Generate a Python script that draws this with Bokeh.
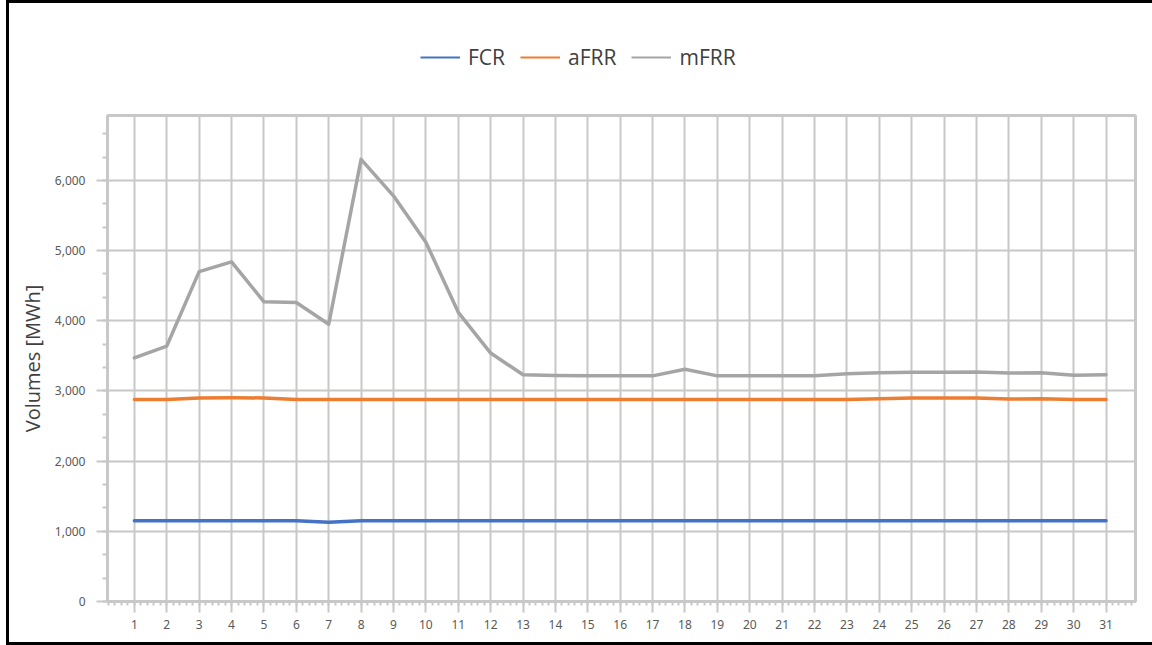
import math
from bokeh.plotting import figure
from bokeh.layouts import column
from bokeh.models import (SingleIntervalTicker, NumeralTickFormatter, Legend,
                          LegendItem, Range1d, ColumnDataSource)
from bokeh.embed import file_html
from bokeh.resources import INLINE

# ---- data ----
days = list(range(1, 32))
fcr = [1150, 1150, 1150, 1150, 1150, 1150, 1130, 1150, 1150, 1150,
       1150, 1150, 1150, 1150, 1150, 1150, 1150, 1150, 1150, 1150,
       1150, 1150, 1150, 1150, 1150, 1150, 1150, 1150, 1150, 1150, 1150]
afrr = [2880, 2880, 2900, 2905, 2900, 2880, 2880, 2880, 2880, 2880,
        2880, 2880, 2880, 2880, 2880, 2880, 2880, 2880, 2880, 2880,
        2880, 2880, 2880, 2890, 2900, 2900, 2900, 2885, 2890, 2880, 2880]
mfrr = [3470, 3640, 4700, 4840, 4270, 4260, 3950, 6300, 5780, 5120,
        4120, 3540, 3230, 3220, 3215, 3215, 3215, 3310, 3215, 3215,
        3215, 3215, 3245, 3260, 3265, 3265, 3270, 3255, 3260, 3225, 3230]
series_names = ["FCR", "aFRR", "mFRR"]
series_values = [fcr, afrr, mfrr]
series_colors = ["#4472C4", "#ED7D31", "#A5A5A5"]
y_label = "Volumes [MWh]"

GRID = "#c8c8c8"
TXT = "#595959"
W = 1146
H_TOP = 80

# ---- legend strip (top part of the bordered frame) ----
lg = figure(width=W, height=H_TOP, output_backend="svg", toolbar_location=None,
            x_axis_type=None, y_axis_type=None,
            x_range=Range1d(0, 1), y_range=Range1d(0, 1),
            min_border=0, outline_line_color=None,
            background_fill_color="white", border_fill_color="white")
lg.grid.visible = False
lg.styles = {"margin-left": "6px", "overflow": "hidden",
             "border-left": "3px solid black", "border-top": "3px solid black"}

items = []
for name, col in zip(series_names, series_colors):
    proxy = lg.line(x=[math.nan], y=[math.nan], line_color=col, line_width=2)
    items.append(LegendItem(label=name, renderers=[proxy]))

legend = Legend(items=items, orientation="horizontal", location=(313, 12),
                glyph_width=40, glyph_height=20, label_standoff=8, spacing=15,
                padding=0, margin=0, border_line_color=None,
                background_fill_alpha=0, label_text_font="Open Sans",
                label_text_font_size="21px", label_text_color="#404040",
                label_height=20)
lg.add_layout(legend, "center")

# ---- main chart ----
p = figure(width=W, height=645 - H_TOP, output_backend="svg", toolbar_location=None,
           x_range=Range1d(0.17, 31.91), y_range=Range1d(0, 6925),
           min_border_left=98, min_border_right=20, min_border_top=35,
           min_border_bottom=44, background_fill_color="white",
           border_fill_color="white")
p.styles = {"margin-left": "6px", "overflow": "hidden",
            "border-left": "3px solid black", "border-bottom": "3px solid black"}

p.outline_line_color = GRID
p.outline_line_width = 3

xa = p.xaxis[0]
xa.ticker = SingleIntervalTicker(interval=1, num_minor_ticks=5)
xa.axis_line_color = GRID
xa.axis_line_width = 2
xa.major_tick_line_color = GRID
xa.major_tick_line_width = 2
xa.major_tick_out = 11
xa.major_tick_in = 0
xa.minor_tick_line_color = GRID
xa.minor_tick_line_width = 2
xa.minor_tick_out = 4
xa.minor_tick_in = 0
xa.major_label_text_font = "Noto Sans"
xa.major_label_text_font_size = "12px"
xa.major_label_text_color = TXT
xa.major_label_standoff = 7

ya = p.yaxis[0]
ya.ticker = SingleIntervalTicker(interval=1000, num_minor_ticks=3)
ya.formatter = NumeralTickFormatter(format="0,0")
ya.axis_line_color = GRID
ya.axis_line_width = 3
ya.major_tick_line_color = GRID
ya.major_tick_line_width = 2
ya.major_tick_out = 11
ya.major_tick_in = 0
ya.minor_tick_line_color = GRID
ya.minor_tick_line_width = 2
ya.minor_tick_out = 5
ya.minor_tick_in = 0
ya.major_label_text_font = "Noto Sans"
ya.major_label_text_font_size = "12px"
ya.major_label_text_color = TXT
ya.major_label_standoff = 11
ya.axis_label = y_label
ya.axis_label_text_font = "Open Sans"
ya.axis_label_text_font_size = "20px"
ya.axis_label_text_font_style = "normal"
ya.axis_label_text_color = "#404040"
ya.axis_label_standoff = 6

p.xgrid.grid_line_color = GRID
p.xgrid.grid_line_width = 2
p.ygrid.grid_line_color = GRID
p.ygrid.grid_line_width = 2

for name, vals, col in zip(series_names, series_values, series_colors):
    src = ColumnDataSource(dict(x=days, y=vals))
    p.line("x", "y", source=src, line_color=col, line_width=3.5,
           line_join="round", line_cap="round")

layout = column(lg, p, spacing=0)
open("out.html", "w").write(file_html(layout, INLINE))
